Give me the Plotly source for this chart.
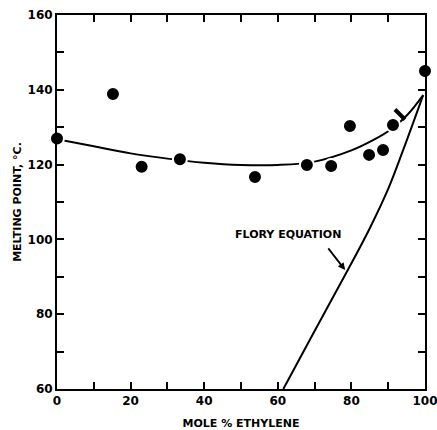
import plotly.graph_objects as go

# Measured data points (mole % ethylene, melting point °C)
ethylene_pct = [0, 15.2, 23.0, 33.4, 53.8, 67.9, 74.5, 79.6, 84.8, 88.6, 91.3, 100]
melting_pt = [127.0, 138.9, 119.4, 121.4, 116.7, 119.9, 119.6, 130.3, 122.6, 123.9, 130.6, 145.0]

# Partially drawn point
partial_x = [93.2]
partial_y = [133.4]

# Fitted experimental curve
fit_x = [0, 10, 20, 30, 40, 50, 60, 70, 80, 86, 91, 95.3, 99.5]
fit_y = [126.8, 124.9, 123.0, 121.6, 120.5, 119.9, 119.9, 120.8, 123.8, 126.6, 129.6, 133.4, 138.6]

# Flory equation curve
flory_x = [61.5, 70, 78.8, 85, 90, 94.1, 99.5]
flory_y = [60, 75.5, 91.4, 103, 113.5, 124.0, 138.6]

x_ticks = list(range(0, 101, 10))
x_ticktext = [str(v) if v % 20 == 0 else "" for v in x_ticks]
y_ticks = list(range(60, 161, 10))
y_ticktext = [str(v) if v % 20 == 0 else "" for v in y_ticks]

FONT = "DejaVu Sans"

fig = go.Figure()
fig.add_trace(go.Scatter(x=fit_x, y=fit_y, mode="lines", line=dict(color="black", width=2, shape="spline"),
                         hoverinfo="skip"))
fig.add_trace(go.Scatter(x=flory_x, y=flory_y, mode="lines", line=dict(color="black", width=2, shape="spline"),
                         hoverinfo="skip"))
fig.add_trace(go.Scatter(x=ethylene_pct, y=melting_pt, mode="markers", cliponaxis=False,
                         marker=dict(color="black", size=14, line=dict(color="white", width=2))))
fig.add_trace(go.Scatter(x=partial_x, y=partial_y, mode="markers",
                         marker=dict(symbol="line-nw", size=10, line=dict(color="black", width=4))))

fig.add_annotation(x=78.3, y=91.8, ax=73.4, ay=98.0, axref="x", ayref="y", xref="x", yref="y",
                   text="", showarrow=True, arrowhead=2, arrowsize=0.8, arrowwidth=1.8, arrowcolor="black")
fig.add_annotation(x=62.7, y=101.3, xref="x", yref="y", text="FLORY EQUATION", showarrow=False,
                   font=dict(family=FONT, size=11, color="black", weight="bold"))

axis_common = dict(showgrid=False, zeroline=False, showline=True, linecolor="black", linewidth=2,
                   mirror="ticks", ticks="inside", ticklen=7, tickwidth=2, tickcolor="black",
                   automargin=False, ticklabeloverflow="allow",
                   tickfont=dict(family=FONT, size=12, color="black", weight="bold"))

fig.update_xaxes(range=[0, 100], tickmode="array", tickvals=x_ticks, ticktext=x_ticktext,
                 title=dict(text="MOLE % ETHYLENE", standoff=12,
                            font=dict(family=FONT, size=11, color="black", weight="bold")),
                 **axis_common)
fig.update_yaxes(range=[60, 160], tickmode="array", tickvals=y_ticks, ticktext=y_ticktext,
                 title=dict(text="MELTING POINT, °C.", standoff=4,
                            font=dict(family=FONT, size=11, color="black", weight="bold")),
                 **axis_common)

fig.update_layout(width=437, height=430, margin=dict(l=57, r=12, t=15, b=41),
                  plot_bgcolor="white", paper_bgcolor="white", showlegend=False)

fig.write_html("out.html", config={"displayModeBar": False},
               post_script="document.body.style.margin='0';document.body.style.overflow='hidden';")
